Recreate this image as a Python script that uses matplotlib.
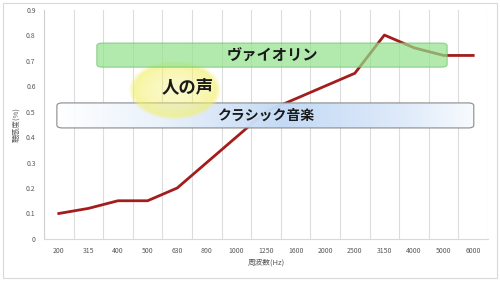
import numpy as np
import matplotlib
matplotlib.use('Agg')
import matplotlib.pyplot as plt
from matplotlib.patches import FancyBboxPatch, Rectangle

plt.rcParams['font.family'] = ['Noto Sans CJK JP', 'DejaVu Sans']

freqs = ['200', '315', '400', '500', '630', '800', '1000', '1250', '1600',
         '2000', '2500', '3150', '4000', '5000', '6000']
values = [0.1, 0.12, 0.15, 0.15, 0.2, 0.3, 0.4, 0.5, 0.55,
          0.6, 0.65, 0.8, 0.75, 0.72, 0.72]
yticks = [0, 0.1, 0.2, 0.3, 0.4, 0.5, 0.6, 0.7, 0.8, 0.9]
ytick_labels = ['0', '0.1', '0.2', '0.3', '0.4', '0.5', '0.6', '0.7', '0.8', '0.9']

fig = plt.figure(figsize=(5, 2.81), dpi=100)
ax = fig.add_axes([0.088, 0.1495, 0.888, 0.8165])

x = np.arange(len(freqs))
ax.plot(x, values, color='#a31d1d', lw=2, zorder=3)

ax.set_xticks(x)
ax.set_xticklabels(freqs)
ax.set_yticks(yticks)
ax.set_yticklabels(ytick_labels)
ax.tick_params(length=0, labelsize=5, colors='#595959', pad=6)

# vertical gridlines at category boundaries
for b in np.arange(-0.5, len(freqs) + 0.5, 1.0):
    ax.axvline(b, color='#dcdcdc', lw=0.8, zorder=0)
for s in ['top', 'right']:
    ax.spines[s].set_visible(False)
ax.spines['left'].set_color('#d0d0d0')
ax.spines['bottom'].set_color('#d9d9d9')

ax.set_xlabel('周波数(Hz)', fontsize=5.5, color='#595959', labelpad=2)
ax.set_ylabel('聴感度(%)', fontsize=5.5, color='#595959', labelpad=4)

# classical music box with white-blue gradient
gxs = np.linspace(0, 1, 256)
blend = np.interp(gxs, [0, 0.25, 0.55, 0.85, 1], [0, 0.35, 1, 0.5, 0.1])
grad = np.zeros((2, 256, 4))
grad[..., 0] = 1 - 0.24 * blend
grad[..., 1] = 1 - 0.15 * blend
grad[..., 2] = 1 - 0.04 * blend
grad[..., 3] = 0.97
im = ax.imshow(grad, extent=[0.029, 0.968, 0.484, 0.593], transform=ax.transAxes,
               aspect='auto', zorder=4, interpolation='bilinear')
clip = FancyBboxPatch((0.029, 0.484), 0.939, 0.109, transform=ax.transAxes,
                      boxstyle='round,pad=0,rounding_size=0.012', fc='none', ec='none')
ax.add_patch(clip)
im.set_clip_path(clip)
cbox = FancyBboxPatch((0.029, 0.484), 0.939, 0.109, transform=ax.transAxes,
                      boxstyle='round,pad=0,rounding_size=0.012',
                      fc='none', ec='#8a8a8a', lw=0.8, zorder=5)
ax.add_patch(cbox)
ax.text(0.5, 0.538, 'クラシック音楽', transform=ax.transAxes, fontsize=10,
        fontweight='bold', ha='center', va='center', color='#1a1a1a', zorder=6)

# yellow glow ellipse: 人の声
ny, nx = 120, 120
gy, gx = np.mgrid[-1:1:ny * 1j, -1:1:nx * 1j]
r = np.sqrt(gx ** 2 + gy ** 2)
glow = np.zeros((ny, nx, 4))
glow[..., 0] = 0.95
glow[..., 1] = 0.94
glow[..., 2] = 0.42
alpha = 0.38 + 0.35 * r ** 2
alpha = alpha * np.clip((1.0 - r) / 0.12, 0, 1)
glow[..., 3] = alpha
ax.imshow(glow, extent=[0.19, 0.4, 0.52, 0.78], transform=ax.transAxes,
          aspect='auto', zorder=7, interpolation='bilinear')
ax.text(0.324, 0.66, '人の声', transform=ax.transAxes, fontsize=12.5,
        fontweight='bold', ha='center', va='center', color='#1a1a1a', zorder=8)

# violin box
vbox = FancyBboxPatch((0.119, 0.749), 0.789, 0.105, transform=ax.transAxes,
                      boxstyle='round,pad=0,rounding_size=0.012',
                      fc='#92e28c', ec='#6fbf6d', lw=0.8, alpha=0.7, zorder=9)
ax.add_patch(vbox)
ax.text(0.515, 0.8, 'ヴァイオリン', transform=ax.transAxes, fontsize=11,
        fontweight='bold', ha='center', va='center', color='#1a1a1a', zorder=10)

ax.set_xlim(-0.5, len(freqs) - 0.5)
ax.set_ylim(0, 0.9)

# outer frame
fig.patches.append(Rectangle((0.006, 0.012), 0.988, 0.978, transform=fig.transFigure,
                             fill=False, ec='#d9d9d9', lw=0.8))

fig.savefig('out.png', dpi=100)
